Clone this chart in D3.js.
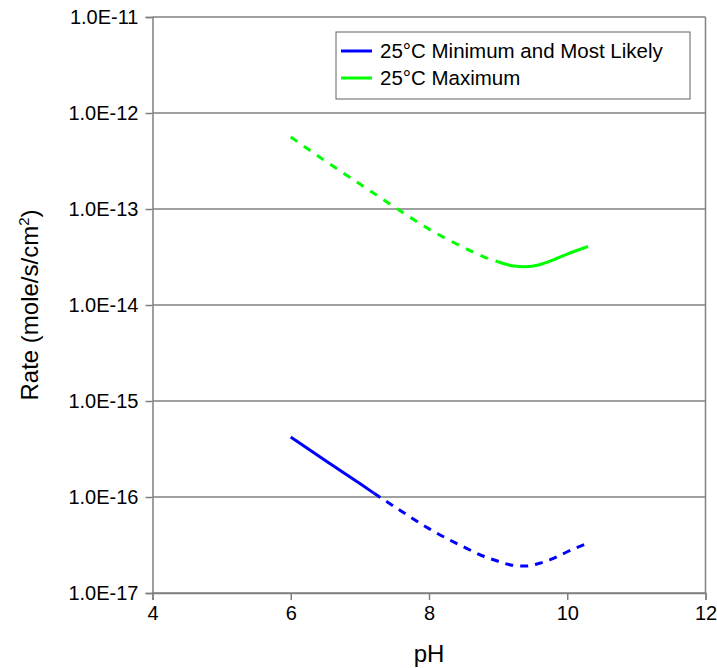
<!DOCTYPE html>
<html><head><meta charset="utf-8">
<script src="https://cdn.jsdelivr.net/npm/d3@7/dist/d3.min.js"></script>
<style>body{margin:0;background:#fff}svg{display:block}text{font-family:Arial,"Liberation Sans",sans-serif;fill:#000}</style>
</head><body><svg id="c" width="717" height="668"></svg>
<script>
// Data
const seriesNames = ["25°C Minimum and Most Likely", "25°C Maximum"];
const seriesColors = ["#0000ff", "#00ff00"];
const minPH   = [6.0, 6.5, 7.0, 7.2, 7.5, 8.0, 8.5, 8.8, 9.0, 9.2, 9.4, 9.6, 9.8, 10.0, 10.3];
const minRate = [4.22e-16, 2.40e-16, 1.38e-16, 1.10e-16, 7.94e-17, 4.68e-17, 3.02e-17, 2.40e-17, 2.14e-17, 1.95e-17, 1.91e-17, 2.04e-17, 2.29e-17, 2.69e-17, 3.31e-17];
const maxPH   = [6.0, 6.5, 7.0, 7.5, 8.0, 8.5, 8.8, 9.0, 9.2, 9.4, 9.6, 9.8, 10.0, 10.3];
const maxRate = [5.62e-13, 3.16e-13, 1.82e-13, 1.05e-13, 6.17e-14, 3.98e-14, 3.16e-14, 2.82e-14, 2.57e-14, 2.51e-14, 2.63e-14, 2.95e-14, 3.39e-14, 4.07e-14];
const xTicks = [4, 6, 8, 10, 12];
const yTicks = [1e-11, 1e-12, 1e-13, 1e-14, 1e-15, 1e-16, 1e-17];
const yTickLabels = ["1.0E-11", "1.0E-12", "1.0E-13", "1.0E-14", "1.0E-15", "1.0E-16", "1.0E-17"];
const minSolidUntil = 7.2;   // blue: solid before, dashed after
const maxDashedUntil = 9.0;  // green: dashed before, solid after

const svg = d3.select("#c");
const L = 152.5, R = 705.5, T = 17, B = 593;
const x = d3.scaleLinear().domain([4, 12]).range([L, R]);
const y = d3.scaleLog().domain([1e-17, 1e-11]).range([B, T]);
const grey = "#808080";

// gridlines
svg.append("g").selectAll("line").data(yTicks).join("line")
  .attr("x1", L).attr("x2", R).attr("y1", d => y(d)).attr("y2", d => y(d))
  .attr("stroke", grey).attr("stroke-width", 1.5);
// right border
svg.append("line").attr("x1", R).attr("x2", R).attr("y1", T).attr("y2", B).attr("stroke", grey).attr("stroke-width", 1.5);

// axes
const yAxis = d3.axisLeft(y).tickValues(yTicks).tickFormat((d, i) => yTickLabels[i]).tickSize(7).tickPadding(7);
const gy = svg.append("g").attr("transform", `translate(${L},0)`).call(yAxis);
const xAxis = d3.axisBottom(x).tickValues(xTicks).tickFormat(d3.format("d")).tickSize(7).tickPadding(6);
const gx = svg.append("g").attr("transform", `translate(0,${B})`).call(xAxis);
[gx, gy].forEach(g => {
  g.select(".domain").attr("stroke", grey).attr("stroke-width", 1.5);
  g.selectAll(".tick line").attr("stroke", grey).attr("stroke-width", 1.5);
  g.selectAll("text").attr("font-size", 20).attr("font-family", "Arial, 'Liberation Sans', sans-serif").attr("fill", "#000");
});

// axis titles
svg.append("text").attr("x", (L + R) / 2).attr("y", 662).attr("text-anchor", "middle").attr("font-size", 24).text("pH");
const yt = svg.append("text").attr("transform", `translate(38,${(T + B) / 2}) rotate(-90)`).attr("text-anchor", "middle").attr("font-size", 24);
yt.append("tspan").text("Rate (mole/s/cm");
yt.append("tspan").attr("font-size", 15).attr("dy", -9).text("2");
yt.append("tspan").attr("dy", 9).text(")");

// lines
const line = d3.line().x(d => x(d[0])).y(d => y(d[1])).curve(d3.curveMonotoneX);
const minPts = minPH.map((p, i) => [p, minRate[i]]);
const maxPts = maxPH.map((p, i) => [p, maxRate[i]]);
function seg(pts, a, b, color, dash) {
  svg.append("path").attr("d", line(pts.filter(d => d[0] >= a && d[0] <= b)))
    .attr("fill", "none").attr("stroke", color).attr("stroke-width", 3)
    .attr("stroke-dasharray", dash).attr("stroke-linecap", "butt");
}
seg(minPts, 0, minSolidUntil, seriesColors[0], null);
seg(minPts, minSolidUntil, 99, seriesColors[0], "8,7");
seg(maxPts, 0, maxDashedUntil, seriesColors[1], "8,8");
seg(maxPts, maxDashedUntil, 99, seriesColors[1], null);

// legend
const lg = svg.append("g");
lg.append("rect").attr("x", 336).attr("y", 32).attr("width", 354).attr("height", 67)
  .attr("fill", "#fff").attr("stroke", "#606060").attr("stroke-width", 1);
seriesNames.forEach((n, i) => {
  const yy = 51 + i * 27;
  lg.append("line").attr("x1", 341).attr("x2", 372).attr("y1", yy).attr("y2", yy)
    .attr("stroke", seriesColors[i]).attr("stroke-width", 3);
  lg.append("text").attr("x", 380).attr("y", yy + 7).attr("font-size", 20.5).text(n);
});
</script></body></html>
